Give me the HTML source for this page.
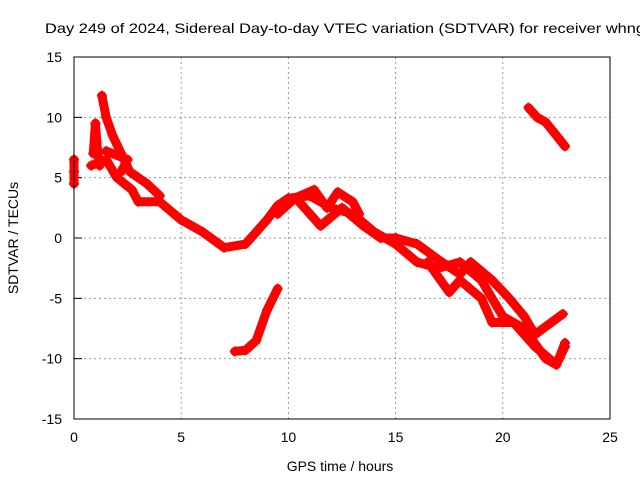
<!DOCTYPE html>
<html><head><meta charset="utf-8"><style>
body{margin:0;background:#fff;overflow:hidden;}
svg text{font-family:"Liberation Sans",sans-serif;font-size:14px;fill:#000;}
</style></head><body>
<svg width="640" height="480" id="chart">
<text x="45" y="33" text-anchor="start" textLength="600" lengthAdjust="spacingAndGlyphs">Day 249 of 2024, Sidereal Day-to-day VTEC variation (SDTVAR) for receiver whng</text>
<text x="340" y="471" text-anchor="middle">GPS time / hours</text>
<text transform="translate(18,238) rotate(-90)" text-anchor="middle">SDTVAR / TECUs</text>
<g id="grid"></g><g id="ticks"></g><g id="data"></g>
<rect x="74" y="57" width="536" height="362" fill="none" stroke="#000" stroke-width="1"/>
</svg>
<script>
const xTicks=[0,5,10,15,20,25];
const yTicks=[-15,-10,-5,0,5,10,15];
const seriesA=[[0,6.5],[0,5.5],[0,4.5]];
const seriesMain=[[0.8,6],[1.5,6.5],[2,5],[2.7,4],[3,3],[4,3],[5,1.5],[6,0.5],[7,-0.8],[8,-0.5],[9,1.5],[9.5,2.7],[10,3.3],[11,3.5],[12,2.5],[13,2],[14,0.5],[15,-0.5],[16,-2],[17,-2.5],[18,-2],[19,-3.5],[20,-6.5],[21,-7.5],[22,-10],[22.5,-10.5],[22.9,-9]];
const seriesUpper=[[0.9,7],[1,9.5],[1.1,7.2],[1.2,6]];
const seriesPeak=[[1.3,11.8],[1.5,10],[1.8,8.5],[2.2,7],[2.6,5.5],[3.4,4.5],[4,3.5]];
const seriesMid=[[1.5,7.2],[2.5,6.5],[2.2,5.5]];
const seriesWave1=[[9.5,2],[10.3,3.3],[11.2,4],[11.8,2.5],[12.3,3.8],[13,3],[13.3,2]];
const seriesWave2=[[10.5,3],[11.5,1],[12.5,2.5],[13.5,1],[14.3,0],[15,0]];
const seriesLow1=[[15,0],[16,-0.5],[17,-1.8],[18,-3],[18.5,-2],[19.5,-3.5],[20.3,-5],[21,-6.5],[21.5,-8],[22.8,-6.3]];
const seriesLow2=[[16.5,-2],[17.5,-4.5],[18,-3.5],[19,-5],[19.5,-7],[20.5,-7],[21.5,-9],[22.5,-10.5],[22.9,-8.7]];
const seriesIso=[[7.5,-9.4],[8,-9.3],[8.5,-8.5],[9,-6],[9.5,-4.2]];
const seriesTop=[[21.2,10.8],[21.6,10],[22,9.6],[22.5,8.5],[22.9,7.6]];
const allSeries=[seriesA,seriesMain,seriesUpper,seriesPeak,seriesMid,seriesWave1,seriesWave2,seriesLow1,seriesLow2,seriesIso,seriesTop];
const NS='http://www.w3.org/2000/svg';
const X=h=>74+h*536/25, Y=v=>238-v*362/30;
const grid=document.getElementById('grid'),ticks=document.getElementById('ticks'),data=document.getElementById('data');
function mk(t,a,p){const e=document.createElementNS(NS,t);for(const k in a)e.setAttribute(k,a[k]);p.appendChild(e);return e;}
xTicks.forEach(t=>{
 if(t>0&&t<25){const g=mk('line',{x1:X(t),x2:X(t),y1:57,y2:419,stroke:'#999','stroke-dasharray':'2,3'},grid);
 
 }
 const l=mk('text',{x:X(t),y:442,'text-anchor':'middle'},ticks);l.textContent=t;
 
 
});
yTicks.forEach(t=>{
 if(t>-15&&t<15){const g=mk('line',{x1:74,x2:610,y1:Y(t),y2:Y(t),stroke:'#999','stroke-dasharray':'2,3'},grid);
 
 }
 mk('line',{x1:74,x2:82,y1:Y(t),y2:Y(t),stroke:'#000'},ticks);
 const l=mk('text',{x:62,y:Y(t)+5,'text-anchor':'end'},ticks);l.textContent=t;
 
 
});
allSeries.forEach((s,i)=>{
 const p=mk('polyline',{points:s.map(d=>X(d[0])+','+Y(d[1])).join(' '),fill:'none',stroke:'#f00','stroke-width':9,'stroke-linejoin':'round','stroke-linecap':'round'},data);
 
 
 s.forEach(d=>{const m=mk('path',{d:`M${X(d[0])-5},${Y(d[1])}h10M${X(d[0])},${Y(d[1])-5}v10`,stroke:'#f00','stroke-width':2},data);
 
 });
});
</script>
</body></html>
